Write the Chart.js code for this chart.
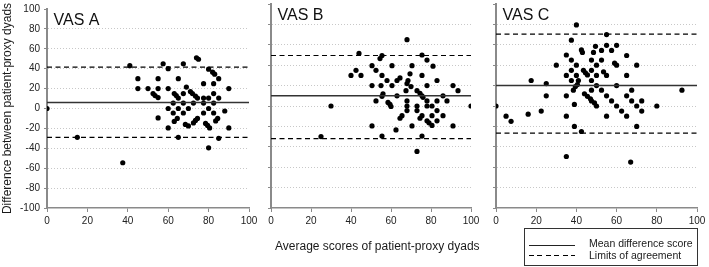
<!DOCTYPE html>
<html>
<head>
<meta charset="utf-8">
<script src="https://cdn.jsdelivr.net/npm/chart.js@4.4.1/dist/chart.umd.min.js"></script>
<style>
  body { margin: 0; background: #fff; width: 709px; height: 267px; overflow: hidden; position: relative;
         font-family: "Liberation Sans", Arial, sans-serif; color: #1a1a1a; }
  .panel { position: absolute; top: 0; height: 267px; }
  #xTitle { position: absolute; left: 275px; top: 240px; font-size: 12px; line-height: 12px; white-space: nowrap; }
  #legend { position: absolute; left: 524px; top: 228px; width: 174px; height: 38px; border: 1px solid #333; box-sizing: border-box; }
  #legend .txt { position: absolute; left: 64px; font-size: 10.5px; line-height: 11px; white-space: nowrap; }
  #legend .ln { position: absolute; left: 4px; width: 46px; height: 1px; }
  #legend .solid { top: 16px; background: #222; }
  #legend .dash { top: 26px; background: repeating-linear-gradient(to right, #000 0 5px, transparent 5px 8.5px); }
</style>
</head>
<body>
<div class="panel" style="left:0;width:262px"><canvas id="chartA"></canvas></div>
<div class="panel" style="left:258px;width:226px"><canvas id="chartB"></canvas></div>
<div class="panel" style="left:483px;width:226px"><canvas id="chartC"></canvas></div>
<div id="xTitle">Average scores of patient-proxy dyads</div>
<div id="legend">
  <div class="ln solid"></div><div class="txt" style="top:9px">Mean difference score</div>
  <div class="ln dash"></div><div class="txt" style="top:21px">Limits of agreement</div>
</div>
<script>
// datos (x = media del par, y = diferencia)
const panelNames = ['VAS A', 'VAS B', 'VAS C'];

const avgA  = [0, 15, 37.5, 41, 57.5, 60, 67.5, 74, 75, 80, 82, 83, 45, 55, 65, 85, 77.5, 82.5,
               45, 50, 55, 60, 90, 69, 71, 52.5, 53.5, 55, 63, 64, 65, 67.5, 72, 73.5, 74.5,
               77.5, 82.5, 85, 80, 62.5, 67.5, 72.5, 77.5, 82.5, 60, 65, 70, 80,
               62.5, 67.5, 77.5, 82.5, 88, 55, 63, 64.5, 72.5, 73.5, 74.5, 78.5, 79.5, 80.5,
               83.5, 84.5, 68.5, 70, 60, 90, 65, 85, 80];
const diffA = [0, -29, -54.5, 43, 45, 40, 45, 51, 49.5, 39.5, 36.5, 34.5, 30, 30, 30, 30, 25, 25,
               20, 20, 20, 20, 20, 21.5, 17, 15, 13, 11, 15, 13, 10.5, 15, 15, 12.5, 10.5,
               10.5, 15, 10.5, 10.5, 5.5, 5.5, 5.5, 5.5, 5.5, 0, 0, 0, 0,
               -4.5, -4.5, -4.5, -4.5, -2.5, -9.5, -13, -10, -14.5, -12, -10, -15, -17, -19.5,
               -12.5, -10, -16, -17.5, -19.5, -19.5, -29, -30, -39.5];

const avgB  = [25, 30, 44, 42.5, 40, 45, 50.5, 52.5, 50.5, 52.5, 50.5,
               68, 55.5, 54.5, 75.5, 78, 81, 60.5, 70.5,
               55.5, 69.5, 58, 63, 64.5, 68.5, 75.5, 83,
               55, 60.5, 68, 70, 78, 91, 93.5,
               73, 74.5, 75.5, 56, 55.5, 67.5, 76, 86, 88, 63,
               68, 78, 83, 58.5, 59.5, 60, 68, 73, 78, 80.5, 100,
               68, 65.5, 64.5, 73, 83, 75.5, 74.5, 80.5, 86,
               78, 79, 80.5, 83, 70.5, 91, 62.5, 55.5, 75.5, 73];
const diffB = [-30, 0, 51.5, 35, 30, 30, 39.5, 35, 20, 5, -19.5,
               65, 49.5, 46.5, 50, 45, 39, 39.5, 39.5,
               30, 31.5, 25, 25, 27.5, 25, 30, 25,
               20, 20, 22, 19, 20, 20, 15,
               15, 12.5, 10, 12, 9.5, 15, 8.5, 10, 5, 10,
               5, 5, 5, 3.5, 1.5, -0.5, 0, 0, 0, 0, 0,
               -4.5, -9.5, -12, -4.5, -4.5, -9.5, -12, -9.5, -9.5,
               -14.5, -16.5, -19, -14.5, -19.5, -19.5, -23.5, -29.5, -29.5, -44.5];

const avgC  = [0, 5, 7.5, 16, 17.5, 22.5, 25, 25,
               30, 35, 35, 35, 35, 35, 37.5, 37.5, 37.5, 37.5,
               40, 40, 40, 40.5, 39.5, 38.5, 39, 39, 42.5,
               42.5, 43, 43.5, 44.5, 45.5, 41, 44, 45.5, 47,
               55, 55, 60, 49.5, 48.5, 52.5, 57.5, 65,
               47.5, 52.5, 50, 59, 60, 70, 47.5, 53.5, 55, 50, 65, 47.5,
               50, 60, 92.5, 47.5, 52.5, 67.5, 65, 55,
               47.5, 49, 50, 57.5, 67.5, 72.5, 60, 70, 80,
               72.5, 62.5, 65, 55, 70, 67];
const diffC = [0, -10, -15, -8, 25, -5, 22, 10,
               40, 50, 30, 10, -10, -49.5, 64.5, 45, 35, 25,
               79.5, 40, 30, 21, 19, 15.5, 1.5, -20, -25,
               55, 52.5, 35, 32.5, 30.5, 25, 12, 9.5, 7,
               70, 59.5, 59.5, 58.5, 52.5, 54.5, 54.5, 49.5,
               45, 45, 40, 42, 40, 40, 35, 33.5, 30, 30, 30, 25,
               20, 20, 15.5, 15.5, 15.5, 15.5, 10, 10,
               5, 3, 0, 5, 5, 5, 0, 0, 0,
               -5, -5, -10, -10, -20, -55];

// media de diferencias y limites de acuerdo
const meanDiff = [6, 10, 20];
const upperLoA = [41.5, 49.5, 70.5];
const lowerLoA = [-29, -32, -26.5];

const fontFam = '"Liberation Sans", Arial, sans-serif';
const axisGrey = '#8a8a8a';

// etiqueta "VAS X" dentro del area del grafico
const panelLabel = {
    id: 'panelLabel',
    afterDraw(chart, args, opts) {
        const { ctx, chartArea } = chart;
        ctx.save();
        ctx.font = '16px ' + fontFam;
        ctx.fillStyle = '#111';
        ctx.textBaseline = 'middle';
        ctx.fillText(opts.text, chartArea.left + 6.5, chartArea.top + 12);
        ctx.restore();
    }
};

function hLine(value, dash, color, width) {
    return {
        type: 'line',
        data: [{ x: 0, y: value }, { x: 100, y: value }],
        showLine: true,
        borderColor: color,
        borderWidth: width,
        borderDash: dash,
        pointRadius: 0,
        fill: false
    };
}

function makePanel(id, idx, xs, ys, first) {
    const ctx = document.getElementById(id).getContext('2d');
    const pts = xs.map((x, i) => ({ x: x, y: ys[i] }));
    return new Chart(ctx, {
        type: 'scatter',
        data: {
            datasets: [
                hLine(meanDiff[idx], [], '#333', 1.5),
                hLine(upperLoA[idx], [5, 3.5], '#000', 1.2),
                hLine(lowerLoA[idx], [5, 3.5], '#000', 1.2),
                {
                    label: panelNames[idx],
                    data: pts,
                    backgroundColor: '#000',
                    borderWidth: 0,
                    pointRadius: 2.6
                }
            ]
        },
        options: {
            responsive: true,
            maintainAspectRatio: false,
            animation: false,
            events: [],
            layout: { padding: { left: first ? 0 : 13, right: idx === 2 ? 12 : 13, top: 3, bottom: 0 } },
            scales: {
                x: {
                    type: 'linear',
                    min: 0,
                    max: 100,
                    ticks: { stepSize: 20, color: '#222', padding: 3, font: { family: fontFam, size: 10 } },
                    grid: { display: true, drawOnChartArea: false, drawTicks: true, tickLength: 4, color: axisGrey },
                    border: { color: axisGrey, width: 1.5 },
                    afterFit: function(s) { s.height = 59; }
                },
                y: {
                    min: -100,
                    max: 100,
                    ticks: { display: first, stepSize: 20, color: '#222', padding: 4,
                             font: { family: fontFam, size: 10, lineHeight: 1 } },
                    grid: {
                        color: c => (Math.abs(c.tick.value) === 100 ? 'rgba(0,0,0,0)' : '#c8c8c8'),
                        tickColor: axisGrey,
                        lineWidth: 1,
                        drawTicks: true,
                        tickLength: 3
                    },
                    border: { color: axisGrey, width: 2, dash: [1, 2] },
                    title: {
                        display: first,
                        text: 'Difference between patient-proxy dyads',
                        color: '#1a1a1a',
                        padding: 0,
                        font: { family: fontFam, size: 12 }
                    },
                    afterFit: function(s) { s.width = first ? 47 : 0; }
                }
            },
            plugins: {
                legend: { display: false },
                tooltip: { enabled: false },
                panelLabel: { text: panelNames[idx] }
            }
        },
        plugins: [panelLabel]
    });
}

makePanel('chartA', 0, avgA, diffA, true);
makePanel('chartB', 1, avgB, diffB, false);
makePanel('chartC', 2, avgC, diffC, false);
</script>
</body>
</html>
